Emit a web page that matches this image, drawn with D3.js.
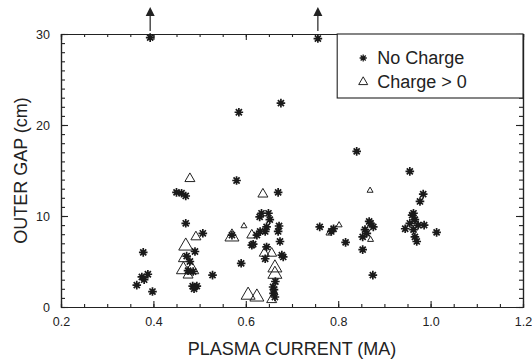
<!DOCTYPE html>
<html>
<head>
<meta charset="utf-8">
<script src="https://cdn.jsdelivr.net/npm/d3@7"></script>
<style>
  body { margin: 0; background: #fff; }
  svg { display: block; font-family: "Liberation Sans", Arial, Helvetica, sans-serif; }
</style>
</head>
<body>
<div id="chart"></div>
<script>
// Datos: corriente de plasma (MA) y separación exterior (cm)
const noChargeCurrent = [0.393, 0.756, 0.585, 0.676, 0.840, 0.955, 0.580, 0.670, 0.450, 0.461,
  0.470, 0.984, 0.977, 0.963, 0.634, 0.649, 0.652, 0.470, 0.645, 0.631,
  0.642, 0.670, 0.624, 0.570, 0.507, 0.674, 0.613, 0.616, 0.645, 0.678,
  0.681, 0.642, 0.590, 0.528, 0.659, 0.661, 0.663, 0.660, 0.378, 0.364,
  0.375, 0.380, 0.388, 0.398, 0.472, 0.479, 0.490, 0.486, 0.475, 0.485,
  0.494, 0.488, 0.760, 0.790, 0.785, 0.816, 0.853, 0.875, 0.867, 0.876,
  0.858, 0.853, 0.862, 0.870, 0.945, 0.955, 0.966, 0.973, 0.986, 0.963,
  0.966, 0.970, 1.013, 0.960, 0.664, 0.672, 0.630];
const noChargeGap = [29.6, 29.5, 21.4, 22.4, 17.1, 14.9, 13.9, 12.6, 12.6, 12.5,
  12.2, 12.4, 11.6, 10.3, 10.3, 10.3, 9.6, 9.2, 8.8, 8.3,
  8.3, 8.3, 7.9, 7.9, 8.1, 7.2, 6.8, 6.9, 6.6, 5.7,
  5.5, 5.3, 4.8, 3.5, 2.2, 1.9, 1.1, 1.5, 6.0, 2.4,
  3.3, 3.0, 3.6, 1.7, 5.6, 5.0, 6.1, 3.9, 4.0, 2.3,
  2.3, 2.0, 8.8, 8.6, 8.3, 7.1, 6.3, 3.5, 9.4, 8.8,
  8.5, 7.7, 8.1, 9.2, 8.6, 9.2, 9.6, 9.0, 9.0, 8.5,
  7.7, 7.2, 8.2, 10.1, 2.8, 8.9, 9.9];

const chargeCurrent = [0.479, 0.637, 0.596, 0.613, 0.570, 0.492, 0.470, 0.465, 0.465, 0.483,
  0.640, 0.656, 0.663, 0.663, 0.605, 0.624, 0.656, 0.802, 0.780, 0.869,
  0.870, 0.475];
const chargeGap = [14.1, 12.4, 8.9, 7.9, 7.7, 7.7, 6.7, 5.3, 4.1, 4.1,
  5.9, 5.9, 4.3, 3.6, 1.3, 1.1, 0.8, 9.0, 8.1, 12.8,
  7.4, 3.5];
// tamaño relativo del triángulo (carga)
const chargeLevel = [2, 2, 1, 2, 3, 2, 3, 2, 3, 3,
  2, 2, 3, 3, 3, 3, 2, 1, 1, 1,
  1, 2];

// puntos que se salen por arriba (flechas)
const offscaleCurrent = [0.393, 0.756];

const xTicks = [0.2, 0.4, 0.6, 0.8, 1.0, 1.2];
const yTicks = [0, 10, 20, 30];

const width = 532, height = 359;
const margin = {top: 34, right: 9, bottom: 52, left: 61};
const w = width - margin.left - margin.right;
const h = height - margin.top - margin.bottom;

const svg = d3.select('#chart').append('svg')
  .attr('width', width)
  .attr('height', height);

const g = svg.append('g')
  .attr('transform', `translate(${margin.left},${margin.top})`);

const x = d3.scaleLinear().domain([0.2, 1.2]).range([0, w]);
const y = d3.scaleLinear().domain([0, 30]).range([h, 0]);

const xMinor = d3.range(0.2, 1.2001, 0.05);
const yMinor = d3.range(0, 30.001, 1);

function styleAxis(sel) {
  sel.select('.domain').attr('stroke', '#222').attr('stroke-width', 1.2);
  sel.selectAll('.tick line').attr('stroke', '#222').attr('stroke-width', 1.1);
  sel.selectAll('.tick text').attr('fill', '#222').attr('font-size', '12.5px')
    .attr('font-family', '"Liberation Sans", Arial, sans-serif');
}

// Eje inferior
g.append('g').attr('transform', `translate(0,${h})`)
  .call(d3.axisBottom(x).tickValues(xMinor).tickSize(-3).tickFormat(''))
  .call(styleAxis);
g.append('g').attr('transform', `translate(0,${h})`)
  .call(d3.axisBottom(x).tickValues(xTicks).tickSizeInner(-6).tickSizeOuter(0)
    .tickPadding(10).tickFormat(d3.format('.1f')))
  .call(styleAxis);

// Eje superior
g.append('g')
  .call(d3.axisTop(x).tickValues(xMinor).tickSize(-3).tickFormat(''))
  .call(styleAxis);
g.append('g')
  .call(d3.axisTop(x).tickValues(xTicks).tickSize(-6).tickFormat(''))
  .call(styleAxis);

// Eje izquierdo
g.append('g')
  .call(d3.axisLeft(y).tickValues(yMinor).tickSize(-4).tickFormat(''))
  .call(styleAxis);
g.append('g')
  .call(d3.axisLeft(y).tickValues(yTicks).tickSizeInner(-7).tickSizeOuter(0)
    .tickPadding(11).tickFormat(d3.format('d')))
  .call(styleAxis);

// Eje derecho
g.append('g').attr('transform', `translate(${w},0)`)
  .call(d3.axisRight(y).tickValues(yMinor).tickSize(-4).tickFormat(''))
  .call(styleAxis);
g.append('g').attr('transform', `translate(${w},0)`)
  .call(d3.axisRight(y).tickValues(yTicks).tickSize(-7).tickFormat(''))
  .call(styleAxis);

// Títulos de los ejes
svg.append('text')
  .attr('x', margin.left + w / 2)
  .attr('y', 355)
  .attr('text-anchor', 'middle')
  .attr('font-size', '18px')
  .attr('fill', '#222')
  .text('PLASMA CURRENT (MA)');

svg.append('text')
  .attr('transform', `translate(27,${margin.top + h / 2}) rotate(-90)`)
  .attr('text-anchor', 'middle')
  .attr('font-size', '18px')
  .attr('fill', '#222')
  .text('OUTER GAP (cm)');

// Marcadores
const starPath = r => {
  const d = r * Math.SQRT1_2;
  return `M${-r},0L${r},0M0,${-r}L0,${r}M${-d},${-d}L${d},${d}M${-d},${d}L${d},${-d}`;
};
const triPath = s => {
  const th = s * Math.sqrt(3) / 2;
  return `M0,${-th * 2 / 3}L${s / 2},${th / 3}L${-s / 2},${th / 3}Z`;
};
const triSize = {1: 6, 2: 10, 3: 14};

const chargeData = chargeCurrent.map((c, i) => ({c, gap: chargeGap[i], lvl: chargeLevel[i]}));
const noChargeData = noChargeCurrent.map((c, i) => ({c, gap: noChargeGap[i]}));

g.selectAll('.tri')
  .data(chargeData)
  .enter()
  .append('path')
  .attr('class', 'tri')
  .attr('transform', d => `translate(${x(d.c)},${y(d.gap)})`)
  .attr('d', d => triPath(triSize[d.lvl]))
  .attr('fill', 'none')
  .attr('stroke', '#222')
  .attr('stroke-width', 1);

g.selectAll('.star')
  .data(noChargeData)
  .enter()
  .append('path')
  .attr('class', 'star')
  .attr('transform', d => `translate(${x(d.c)},${y(d.gap)})`)
  .attr('d', starPath(4.3))
  .attr('fill', 'none')
  .attr('stroke', '#1a1a1a')
  .attr('stroke-width', 1.7);

// Flechas de fuera de escala
const arrows = g.selectAll('.arrow')
  .data(offscaleCurrent)
  .enter()
  .append('g')
  .attr('class', 'arrow')
  .attr('transform', d => `translate(${x(d)},0)`);
arrows.append('line')
  .attr('x1', 0).attr('x2', 0)
  .attr('y1', -3).attr('y2', -20)
  .attr('stroke', '#222')
  .attr('stroke-width', 1.2);
arrows.append('path')
  .attr('d', 'M0,-27L4.5,-18L-4.5,-18Z')
  .attr('fill', '#222');

// Leyenda
const legend = g.append('g')
  .attr('transform', `translate(${x(0.8) - 1},0)`);
legend.append('rect')
  .attr('x', 0).attr('y', 0)
  .attr('width', w - x(0.8) + 1)
  .attr('height', 64)
  .attr('fill', '#fff')
  .attr('stroke', '#222')
  .attr('stroke-width', 1.1);
legend.append('path')
  .attr('transform', 'translate(26,24)')
  .attr('d', starPath(3.6))
  .attr('stroke', '#1a1a1a')
  .attr('stroke-width', 1.3);
legend.append('text')
  .attr('x', 40).attr('y', 30)
  .attr('font-size', '18px')
  .attr('fill', '#222')
  .text('No Charge');
legend.append('path')
  .attr('transform', 'translate(26,48)')
  .attr('d', triPath(9))
  .attr('fill', 'none')
  .attr('stroke', '#222')
  .attr('stroke-width', 1);
legend.append('text')
  .attr('x', 40).attr('y', 54)
  .attr('font-size', '18px')
  .attr('fill', '#222')
  .text('Charge > 0');
</script>
</body>
</html>
